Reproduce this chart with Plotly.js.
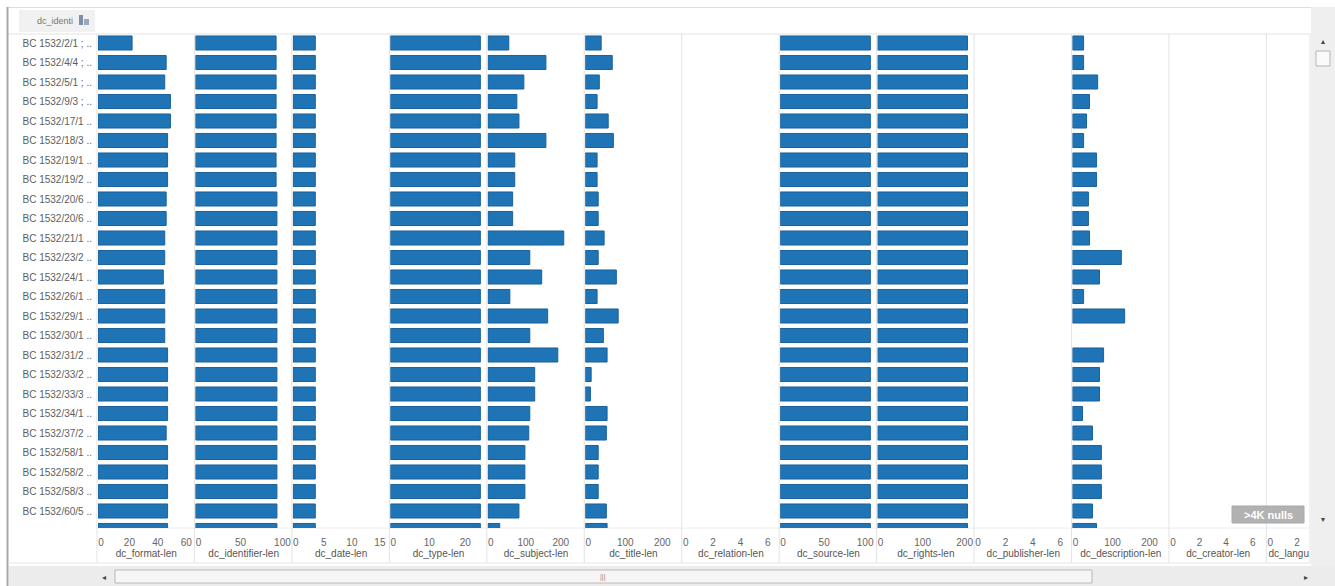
<!DOCTYPE html>
<html>
<head>
<meta charset="utf-8">
<script src="https://cdn.plot.ly/plotly-3.0.1.min.js"></script>
<style>html,body{margin:0;padding:0;background:#fff;}#chart{width:1335px;height:586px;}</style>
</head>
<body>
<div id="chart"></div>
<script>
// ---------------- DATA ----------------
const rowLabels = [
  "BC 1532/2/1 ; ..", "BC 1532/4/4 ; ..", "BC 1532/5/1 ; ..", "BC 1532/9/3 ; ..",
  "BC 1532/17/1 ..", "BC 1532/18/3 ..", "BC 1532/19/1 ..", "BC 1532/19/2 ..",
  "BC 1532/20/6 ..", "BC 1532/20/6 ..", "BC 1532/21/1 ..", "BC 1532/23/2 ..",
  "BC 1532/24/1 ..", "BC 1532/26/1 ..", "BC 1532/29/1 ..", "BC 1532/30/1 ..",
  "BC 1532/31/2 ..", "BC 1532/33/2 ..", "BC 1532/33/3 ..", "BC 1532/34/1 ..",
  "BC 1532/37/2 ..", "BC 1532/58/1 ..", "BC 1532/58/2 ..", "BC 1532/58/3 ..",
  "BC 1532/60/5 ..", "BC 1532/61/1 .."
];
const measureNames = [
  "dc_format-len", "dc_identifier-len", "dc_date-len", "dc_type-len",
  "dc_subject-len", "dc_title-len", "dc_relation-len", "dc_source-len",
  "dc_rights-len", "dc_publisher-len", "dc_description-len", "dc_creator-len", "dc_langu"
];
const formatLen      = [24,48,47,51,51,49,49,49,48,48,47,47,46,47,47,47,49,49,49,49,48,49,49,49,49,49];
const identifierLen  = [96,96,96,96,96,96,96,96,97,97,97,97,97,97,97,97,97,97,97,97,97,97,97,97,97,97];
const dateLen        = [4,4,4,4,4,4,4,4,4,4,4,4,4,4,4,4,4,4,4,4,4,4,4,4,4,4];
const typeLen        = [25,25,25,25,25,25,25,25,25,25,25,25,25,25,25,25,25,25,25,25,25,25,25,25,25,25];
const subjectLen     = [60,166,103,83,89,166,77,77,71,71,217,120,154,63,171,120,200,134,134,120,117,106,106,106,89,34];
const titleLen       = [43,73,38,32,62,76,32,32,35,35,51,35,84,32,89,49,59,16,14,59,57,35,35,35,57,59];
const relationLen    = new Array(26).fill(null);
const sourceLen      = [110,110,110,110,110,110,110,110,110,110,110,110,110,110,110,110,110,110,110,110,110,110,110,110,110,110];
const rightsLen      = [214,214,214,214,214,214,214,214,214,214,214,214,214,214,214,214,214,214,214,214,214,214,214,214,214,214];
const publisherLen   = new Array(26).fill(null);
const descriptionLen = [30,30,68,46,38,30,65,65,43,43,46,132,73,30,141,null,84,73,73,27,54,78,78,78,54,65];
const creatorLen     = new Array(26).fill(null);
const languageLen    = new Array(26).fill(null);
const nullsBadge = ">4K nulls";
const headerText = "dc_identi";

const seriesList = [formatLen, identifierLen, dateLen, typeLen, subjectLen, titleLen,
  relationLen, sourceLen, rightsLen, publisherLen, descriptionLen, creatorLen, languageLen];

// ---------------- STYLE / LAYOUT ----------------
const W = 1335, H = 586;
const panelLeft0 = 97, panelW = 97.45, plotRight = 1310;
const plotTop = 34, plotBottom = 528;
const pxPerUnit = [1.42, 0.84, 5.6, 3.6, 0.35, 0.37, 13.7, 0.82, 0.42, 13.7, 0.37, 13.3, 13.3];
const dticks    = [20, 50, 5, 10, 100, 100, 2, 50, 100, 2, 100, 2, 2];
const rowPitch = 19.5, firstRowCenter = 43;

const fx = px => px / W;
const fy = py => 1 - py / H;

const traces = [];
const layout = {
  width: W, height: H,
  margin: {l: 0, r: 0, t: 0, b: 0},
  paper_bgcolor: '#ffffff', plot_bgcolor: 'rgba(0,0,0,0)',
  showlegend: false,
  font: {family: 'Liberation Sans, Arial, sans-serif', size: 10, color: '#666'},
  shapes: [], annotations: []
};

const idx = rowLabels.map((_, i) => i);
const yMin = (plotTop - firstRowCenter) / rowPitch;
const yMax = (plotBottom - firstRowCenter) / rowPitch;

layout.yaxis = {
  domain: [fy(plotBottom), fy(plotTop)],
  range: [yMax, yMin],
  anchor: 'x',
  tickmode: 'array', tickvals: idx, ticktext: rowLabels,
  ticks: 'outside', ticklen: 3, tickcolor: 'rgba(0,0,0,0)',
  tickfont: {size: 10, color: '#5e5e5e'},
  showgrid: false, zeroline: false, showline: false, fixedrange: true
};

seriesList.forEach((vals, k) => {
  const n = k + 1;
  const left = panelLeft0 + k * panelW;
  const right = Math.min(left + panelW, plotRight);
  const xName = n === 1 ? 'xaxis' : 'xaxis' + n;
  layout[xName] = {
    domain: [fx(left + 1), fx(right)],
    range: [0, (right - left - 1) / pxPerUnit[k]],
    anchor: 'y',
    dtick: dticks[k], tick0: 0,
    ticks: 'outside', ticklen: 5, tickcolor: 'rgba(0,0,0,0)',
    ticklabelshift: 3,
    tickfont: {size: 10, color: '#666'},
    showgrid: false, zeroline: false, showline: false, fixedrange: true,
    title: {text: measureNames[k], font: {size: 10, color: '#555'}, standoff: 1}
  };
  traces.push({
    type: 'bar', orientation: 'h',
    x: vals, y: idx,
    xaxis: n === 1 ? 'x' : 'x' + n, yaxis: 'y',
    width: 0.72,
    marker: {color: '#1f74b6', line: {color: '#1c6199', width: 1}},
    hoverinfo: 'skip'
  });
  layout.shapes.push({type: 'line', xref: 'paper', yref: 'paper',
    x0: fx(left), x1: fx(left), y0: fy(plotTop), y1: fy(563),
    line: {color: '#e3e3e3', width: 1}, layer: 'below'});
});

const S = layout.shapes;
const A = layout.annotations;
function note(x, y, text, size, color) {
  A.push({xref: 'paper', yref: 'paper', x: fx(x), y: fy(y), xanchor: 'center', yanchor: 'middle',
    text: text, showarrow: false, font: {size: size, color: color}});
}
function line(x0, y0, x1, y1, color, w, below) {
  const s = {type: 'line', xref: 'paper', yref: 'paper', x0: fx(x0), x1: fx(x1), y0: fy(y0), y1: fy(y1), line: {color: color, width: w}};
  if (below) s.layer = 'below';
  S.push(s);
}
function rect(x0, y0, x1, y1, fill, lineColor, below) {
  const s = {type: 'rect', xref: 'paper', yref: 'paper', x0: fx(x0), x1: fx(x1), y0: fy(y1), y1: fy(y0), fillcolor: fill,
    line: lineColor ? {color: lineColor, width: 1} : {width: 0}};
  if (below) s.layer = 'below';
  S.push(s);
}
// frame lines
line(97, plotBottom, plotRight, plotBottom, '#ececec', 1, true);
line(8, plotTop, plotRight, plotTop, '#e3e3e3', 1, true);
line(8, 7.5, 1311, 7.5, '#dddddd', 1);
line(plotRight, plotTop, plotRight, 563, '#e3e3e3', 1, true);
line(7.5, 7, 7.5, 586, '#a8a8a8', 2);
line(8, 563, plotRight, 563, '#e6e6e6', 1);
// header box
rect(19, 10, 95, 32, '#f1f1f1', null, true);
note(55, 21, headerText, 9, '#777');
rect(79, 15, 83, 25, '#7c8fa8', null);
rect(84, 19, 89, 25, '#9aa8ba', null);
// vertical scrollbar
rect(1311, 7, 1335, 566, '#efefef', null);
rect(1316, 51, 1330, 66, '#fafafa', '#b5b5b5');
note(1323, 42, '▴', 8, '#444');
note(1323, 519, '▾', 8, '#444');
// horizontal scrollbar
rect(9, 566, 1335, 586, '#ececec', null);
rect(115, 570, 1092, 583, '#f6f6f6', '#b8b8b8');
note(104, 577, '◂', 8, '#444');
note(1306, 577, '▸', 8, '#444');
note(603, 577, '|||', 7, '#888');
// nulls badge
rect(1232, 506, 1304, 523, '#b2b2b2', '#a8a8a8');
note(1268, 514.5, '<b>' + nullsBadge.replace('>', '&gt;') + '</b>', 11, '#ffffff');

Plotly.newPlot('chart', traces, layout, {displayModeBar: false, staticPlot: true});
</script>
</body>
</html>
